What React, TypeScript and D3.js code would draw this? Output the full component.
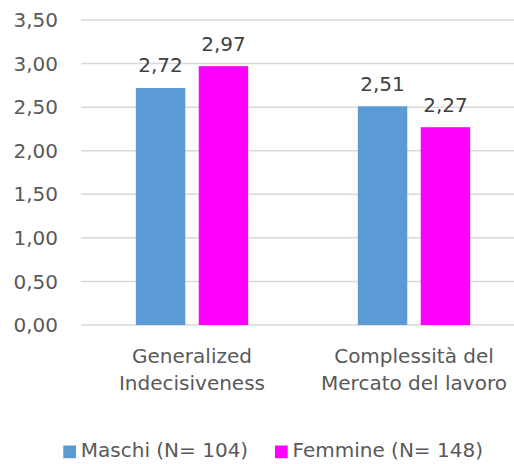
import React from "react";
import * as d3 from "d3";

const categories: string[][] = [
  ["Generalized", "Indecisiveness"],
  ["Complessità del", "Mercato del lavoro"],
];
const seriesNames = ["Maschi (N= 104)", "Femmine (N= 148)"];
const maschi = [2.72, 2.51];
const femmine = [2.97, 2.27];
const yTicks = [0, 0.5, 1, 1.5, 2, 2.5, 3, 3.5];
const colors = ["#5B9BD5", "#FF00FF"];

const W = 514;
const H = 464;
const FONT = "'DejaVu Sans', sans-serif";

export default function App() {
  const x0 = d3
    .scaleBand<number>()
    .domain(categories.map((_, i) => i))
    .range([81, 525])
    .paddingInner(0)
    .paddingOuter(0);
  const groupW = 112.3;
  const x1 = d3
    .scaleBand<number>()
    .domain([0, 1])
    .range([0, groupW])
    .paddingInner(0.214)
    .paddingOuter(0);
  const y = d3.scaleLinear().domain([0, 3.5]).range([325, 20]);
  const fmt = (v: number) => v.toFixed(2).replace(".", ",");
  const series = [maschi, femmine];

  return (
    <svg
      width={W}
      height={H}
      style={{ position: "absolute", left: 0, top: 0, background: "#fff" }}
      fontFamily={FONT}
    >
      {yTicks.map((t) => (
        <g key={t}>
          <line x1={81} x2={W} y1={y(t)} y2={y(t)} stroke="#d9d9d9" strokeWidth={1.5} />
          <text x={58} y={y(t)} dy="0.36em" textAnchor="end" fontSize={20} fill="#595959">
            {fmt(t)}
          </text>
        </g>
      ))}
      {categories.map((cat, ci) => {
        const gx = x0(ci)! + (x0.bandwidth() - groupW) / 2;
        return (
          <g key={ci}>
            {series.map((s, si) => {
              const bx = gx + x1(si)!;
              const bw = x1.bandwidth();
              return (
                <g key={si}>
                  <rect x={bx} y={y(s[ci])} width={bw} height={y(0) - y(s[ci])} fill={colors[si]} />
                  <text
                    x={bx + bw / 2}
                    y={y(s[ci]) - 15.5}
                    textAnchor="middle"
                    fontSize={20}
                    fill="#404040"
                  >
                    {fmt(s[ci])}
                  </text>
                </g>
              );
            })}
            {cat.map((line, li) => (
              <text
                key={li}
                x={x0(ci)! + x0.bandwidth() / 2}
                y={362.5 + li * 27.5}
                textAnchor="middle"
                fontSize={20}
                fill="#595959"
              >
                {line}
              </text>
            ))}
          </g>
        );
      })}
      {seriesNames.map((name, i) => {
        const lx = [63.3, 275][i];
        return (
          <g key={name}>
            <rect x={lx} y={445.5} width={12.7} height={12.7} fill={colors[i]} />
            <text x={lx + 17.5} y={456.5} fontSize={20} fill="#595959">
              {name}
            </text>
          </g>
        );
      })}
    </svg>
  );
}
